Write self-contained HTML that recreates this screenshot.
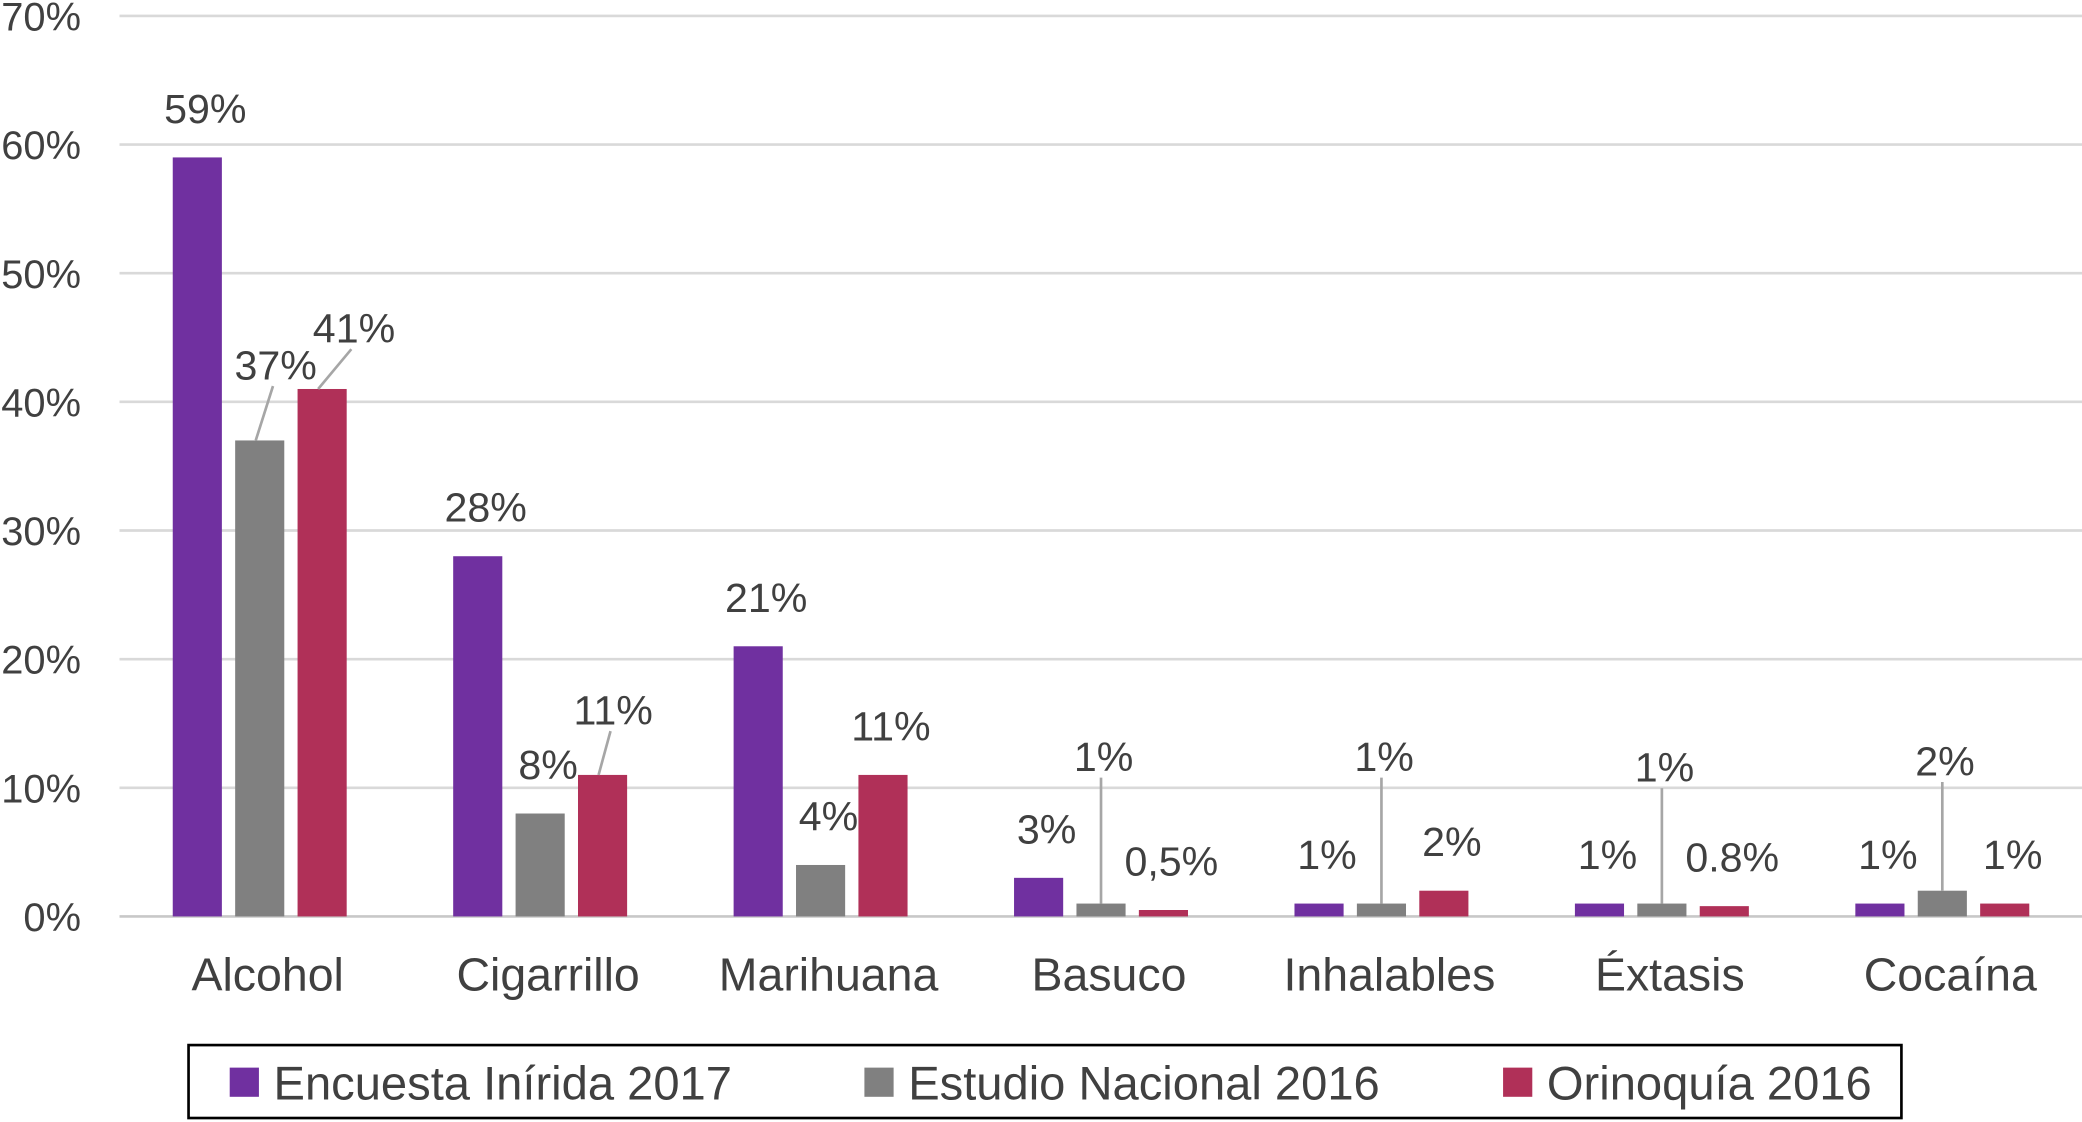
<!DOCTYPE html>
<html><head><meta charset="utf-8"><style>
html,body{margin:0;padding:0;background:#fff;}
svg{display:block;}
text{font-family:"Liberation Sans",sans-serif;fill:#404040;}
</style></head><body>
<svg id="chart" width="2082" height="1122" viewBox="0 0 1568 846" preserveAspectRatio="none" xmlns="http://www.w3.org/2000/svg"></svg>
<script>
const categories = ["Alcohol","Cigarrillo","Marihuana","Basuco","Inhalables","Éxtasis","Cocaína"];
const seriesNames = ["Encuesta Inírida 2017","Estudio Nacional 2016","Orinoquía 2016"];
const inirida = [59,28,21,3,1,1,1];
const nacional = [37,8,4,1,1,1,2];
const orinoquia = [41,11,11,0.5,2,0.8,1];
const iniridaLabels = ["59%","28%","21%","3%","1%","1%","1%"];
const nacionalLabels = ["37%","8%","4%","1%","1%","1%","2%"];
const orinoquiaLabels = ["41%","11%","11%","0,5%","2%","0.8%","1%"];
const yTicks = [0,10,20,30,40,50,60,70];
const yTickLabels = ["0%","10%","20%","30%","40%","50%","60%","70%"];

// layout (not data)
const colors = ["#7030a0","#808080","#b03058"];
const lift = [
  [37,37,37,37,37,37,37],
  [57,37,37,111,111,103,98],
  [46,49,37,37,37,37,37]
];
const leaderDx = [[0,0,0,0,0,0,0],[10,0,0,0,0,0,0],[22,6,0,0,0,0,0]];
const svg = document.getElementById('chart');
const NS = "http://www.w3.org/2000/svg";
const x0 = 90, groupW = 211.2, barW = 37, barStep = 47, textShift = 6;
const yBase = 691, yPer = 9.7;
const y = v => yBase - v * yPer;
const gx = i => x0 + groupW * i + groupW / 2;
function mk(tag, attrs, parent) {
  const el = document.createElementNS(NS, tag);
  for (const k in attrs) el.setAttribute(k, attrs[k]);
  (parent || svg).appendChild(el);
  return el;
}
yTicks.forEach((t, i) => {
  const l = mk('line', {x1: 90, x2: 1568, y1: y(t), y2: y(t), stroke: t === 0 ? '#c8c8c8' : '#d9d9d9', 'stroke-width': 2});
  
  
  const tx = mk('text', {x: 61, y: y(t) + 11, 'font-size': 30, 'text-anchor': 'end'});
  tx.textContent = yTickLabels[i];
  
  
});
const series = [inirida, nacional, orinoquia];
const labels = [iniridaLabels, nacionalLabels, orinoquiaLabels];
categories.forEach((c, i) => {
  series.forEach((s, k) => {
    const cx = gx(i) + (k - 1) * barStep;
    const top = y(s[i]);
    const r = mk('rect', {x: cx - barW / 2, y: top, width: barW, height: yBase - top, fill: colors[k]});
    
    
    const ly = top - lift[k][i];
    const lx = cx + leaderDx[k][i];
    if (lift[k][i] > 40) {
      const ln = mk('line', {x1: cx - (leaderDx[k][i] ? 3 : 0), y1: top, x2: lx, y2: ly + 16, stroke: '#a6a6a6', 'stroke-width': 2});
      
      
    }
    const t = mk('text', {x: lx + (lift[k][i] > 40 ? 2 : textShift), y: ly + 11, 'font-size': 31, 'text-anchor': 'middle', fill: '#333'});
    t.textContent = labels[k][i];
    
    
  });
  const ct = mk('text', {x: gx(i) + textShift, y: 747, 'font-size': 35, 'text-anchor': 'middle'});
  ct.textContent = c;
  
  
});
const lg = mk('g', {});


const box = mk('rect', {x: 142, y: 788, width: 1290, height: 55, fill: 'none', stroke: '#000', 'stroke-width': 2}, lg);


const legX = [173, 651, 1132];
seriesNames.forEach((n, k) => {
  const sq = mk('rect', {x: legX[k], y: 805, width: 22, height: 22, fill: colors[k]}, lg);
  
  
  const t = mk('text', {x: legX[k] + 33, y: 829, 'font-size': 35.5}, lg);
  t.textContent = n;
  
  
});
</script>
</body></html>
